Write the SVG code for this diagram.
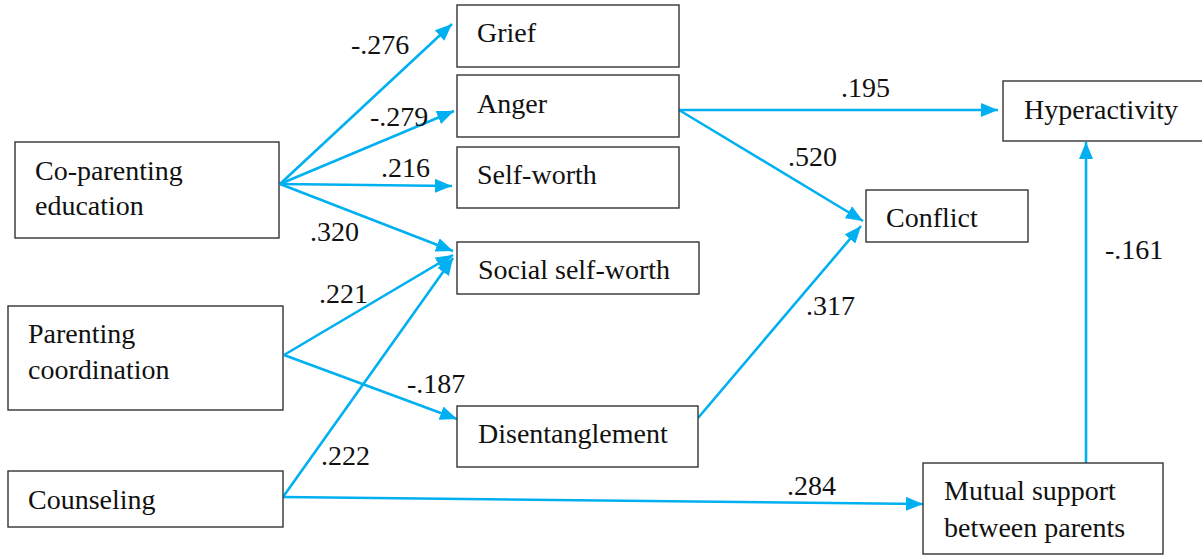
<svg xmlns="http://www.w3.org/2000/svg" width="1202" height="556" viewBox="0 0 1202 556">
<style>
.box{fill:#fff;stroke:#333;stroke-width:1.4}
.t{font-size:28px;fill:#111}
.c{stroke:#00B0F0;stroke-width:2.6;fill:none;marker-end:url(#ah)}
</style>
<defs>
<marker id="ah" markerUnits="userSpaceOnUse" markerWidth="18" markerHeight="14" refX="17" refY="7" orient="auto">
<path d="M0,0 L17,7 L0,14 z" fill="#00B0F0"/>
</marker>
</defs>
<rect width="1202" height="556" fill="#fff"/>
<g id="connectors">
<line class="c" x1="280" y1="184" x2="452" y2="24"/>
<line class="c" x1="280" y1="184" x2="454" y2="111"/>
<line class="c" x1="280" y1="184" x2="452" y2="186"/>
<line class="c" x1="280" y1="184" x2="453" y2="251"/>
<line class="c" x1="284" y1="355" x2="453" y2="255"/>
<line class="c" x1="284" y1="355" x2="457" y2="419"/>
<line class="c" x1="283" y1="497" x2="453" y2="258"/>
<line class="c" x1="283" y1="497" x2="923" y2="504"/>
<line class="c" x1="679" y1="110" x2="998" y2="110"/>
<line class="c" x1="679" y1="110" x2="863" y2="221"/>
<line class="c" x1="698" y1="418" x2="861" y2="226"/>
<line class="c" x1="1086" y1="463" x2="1086" y2="142"/>
</g>
<g font-family="'Liberation Serif', 'DejaVu Serif', 'Times New Roman', serif">
<g id="labels">
<text class="t" x="351" y="54">-.276</text>
<text class="t" x="370" y="126">-.279</text>
<text class="t" x="381" y="177">.216</text>
<text class="t" x="310" y="241">.320</text>
<text class="t" x="319" y="303">.221</text>
<text class="t" x="407" y="393">-.187</text>
<text class="t" x="321" y="465">.222</text>
<text class="t" x="787" y="495">.284</text>
<text class="t" x="841" y="97">.195</text>
<text class="t" x="788" y="166">.520</text>
<text class="t" x="806" y="315">.317</text>
<text class="t" x="1105" y="259">-.161</text>
</g>
<g id="coparenting"><rect class="box" x="15" y="142" width="264" height="96"/><text class="t" x="35" y="180">Co-parenting</text><text class="t" x="35" y="215">education</text></g>
<g id="parenting"><rect class="box" x="8" y="306" width="275" height="104"/><text class="t" x="28" y="343">Parenting</text><text class="t" x="28" y="379">coordination</text></g>
<g id="counseling"><rect class="box" x="8" y="471" width="275" height="56"/><text class="t" x="28" y="509">Counseling</text></g>
<g id="grief"><rect class="box" x="457" y="5" width="222" height="62"/><text class="t" x="477" y="42">Grief</text></g>
<g id="anger"><rect class="box" x="457" y="75" width="222" height="62"/><text class="t" x="477" y="113">Anger</text></g>
<g id="selfworth"><rect class="box" x="457" y="147" width="222" height="61"/><text class="t" x="477" y="184">Self-worth</text></g>
<g id="socialselfworth"><rect class="box" x="457" y="242" width="242" height="52"/><text class="t" x="478" y="279">Social self-worth</text></g>
<g id="disentanglement"><rect class="box" x="457" y="406" width="241" height="61"/><text class="t" x="478" y="443">Disentanglement</text></g>
<g id="conflict"><rect class="box" x="866" y="190" width="162" height="52"/><text class="t" x="886" y="227">Conflict</text></g>
<g id="hyperactivity"><rect class="box" x="1003" y="81" width="210" height="60"/><text class="t" x="1024" y="119">Hyperactivity</text></g>
<g id="mutualsupport"><rect class="box" x="923" y="463" width="240" height="91"/><text class="t" x="944" y="500">Mutual support</text><text class="t" x="944" y="537">between parents</text></g>
</g>
</svg>
